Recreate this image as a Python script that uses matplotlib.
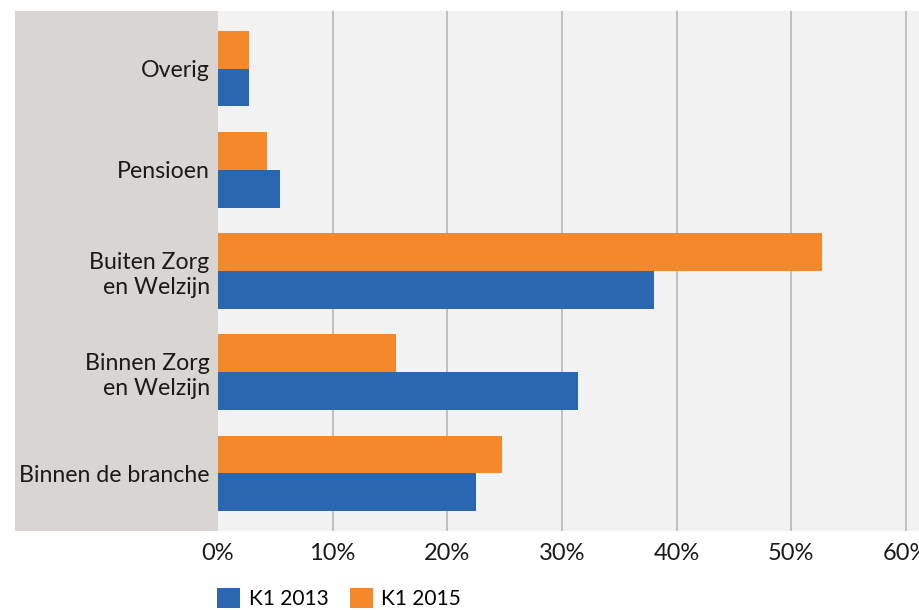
import matplotlib
matplotlib.use("Agg")
import matplotlib.pyplot as plt
from matplotlib.patches import Rectangle, Patch
import numpy as np

categories = ["Overig", "Pensioen", "Buiten Zorg\nen Welzijn", "Binnen Zorg\nen Welzijn", "Binnen de branche"]
k1_2013 = [2.7, 5.4, 38.0, 31.4, 22.5]
k1_2015 = [2.7, 4.3, 52.7, 15.5, 24.8]
xticks = [0, 10, 20, 30, 40, 50, 60]
xticklabels = ["0%", "10%", "20%", "30%", "40%", "50%", "60%"]

W, H = 919, 610
plt.rcParams['font.family'] = ['Lato', 'DejaVu Sans']
fig = plt.figure(figsize=(W / 100, H / 100), dpi=100)

# gray label panel
fig.patches.append(Rectangle((15 / W, (H - 531) / H), (218 - 15) / W, 520 / H,
                             transform=fig.transFigure, facecolor="#d9d5d2",
                             edgecolor="none", zorder=-5))

ax = fig.add_axes([218 / W, (H - 531) / H, (W - 218) / W, 520 / H])
ax.set_zorder(2)
ax.set_facecolor("#f2f2f2")
for s in ax.spines.values():
    s.set_visible(False)

y = np.arange(len(categories))
h = 0.375
ax.barh(y + h / 2, k1_2013, height=h, color="#2b67b1", label="K1 2013", zorder=3)
ax.barh(y - h / 2, k1_2015, height=h, color="#f5882b", label="K1 2015", zorder=3)

ax.set_xlim(0, (W - 218) / 114.67 * 10)
ax.set_ylim(len(categories) - 1 + 0.568, -0.568)
ax.set_xticks(xticks)
ax.set_xticklabels(xticklabels, fontsize=17, color="#1a1a1a")
ax.set_yticks(y)
ax.set_yticklabels(categories, fontsize=16.7, color="#1a1a1a", multialignment="right",
                   linespacing=1.25)
ax.tick_params(axis="both", length=0)
ax.tick_params(axis="y", pad=6)
ax.tick_params(axis="x", pad=9)
for xv in xticks[1:]:
    ax.axvline(xv, color="#b9b5b5", linewidth=1.2, zorder=1)

fig.legend(handles=[Patch(facecolor="#2b67b1", label="K1 2013"),
                    Patch(facecolor="#f5882b", label="K1 2015")],
           loc="upper left", bbox_to_anchor=(209 / W, (H - 580) / H), ncol=2,
           frameon=False, fontsize=15, handlelength=1.1, handleheight=1.1,
           handletextpad=0.4, columnspacing=1.05, borderaxespad=0)

fig.savefig("out.png", dpi=100)
